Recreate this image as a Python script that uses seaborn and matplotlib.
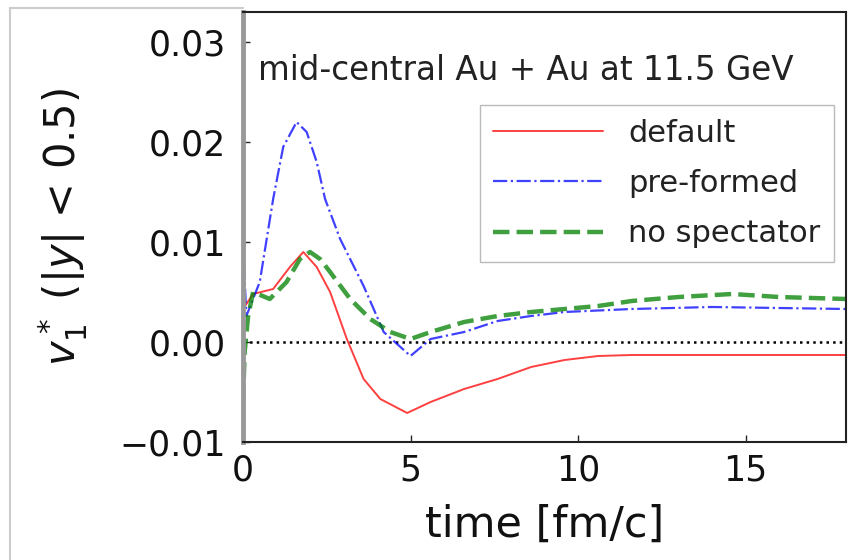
import matplotlib
matplotlib.use('Agg')
import matplotlib.pyplot as plt
import numpy as np
import pandas as pd
import seaborn as sns
from matplotlib.lines import Line2D

# default
t_default = [0, 0.3, 0.9, 1.4, 1.8, 2.2, 2.6, 3.1, 3.6, 4.1, 4.9, 5.6, 6.6, 7.6, 8.6, 9.6, 10.6, 11.6, 13, 14.5, 16, 18]
v_default = [0.0033, 0.0048, 0.0053, 0.0075, 0.009, 0.0075, 0.005, 0.0003, -0.0037, -0.0057, -0.0071, -0.006,
             -0.0047, -0.0037, -0.0025, -0.0018, -0.0014, -0.0013, -0.0013, -0.0013, -0.0013, -0.0013]

# pre-formed
t_pre = [0, 0.1, 0.5, 0.9, 1.2, 1.6, 1.9, 2.2, 2.45, 2.9, 3.6, 4.2, 5.0, 5.6, 6.6, 7.6, 8.6, 9.6, 11.6, 14, 16, 18]
v_pre = [0.01, 0.0026, 0.006, 0.0143, 0.0195, 0.022, 0.021, 0.018, 0.0143, 0.0103, 0.0056, 0.001, -0.0014,
         0.0003, 0.001, 0.0021, 0.0026, 0.003, 0.0033, 0.0035, 0.0034, 0.0033]

# no spectator
t_nospec = [0, 0.05, 0.15, 0.3, 0.8, 1.3, 1.7, 2.0, 2.3, 2.6, 3.2, 3.8, 4.4, 5.0, 5.6, 6.6, 7.6, 8.6, 9.6,
            10.6, 11.6, 13, 14.6, 16, 18]
v_nospec = [-0.006, -0.001, 0.0025, 0.005, 0.0043, 0.006, 0.0083, 0.009, 0.0083, 0.007, 0.0043, 0.0023, 0.001,
            0.0003, 0.001, 0.002, 0.0026, 0.003, 0.0033, 0.0036, 0.0041, 0.0045, 0.0048, 0.0045, 0.0043]

x_ticks = [0, 5, 10, 15]
y_ticks = [-0.01, 0.0, 0.01, 0.02, 0.03]

cases = [
    {'name': 'default', 't': t_default, 'v': v_default, 'color': 'red', 'ls': '-', 'lw': 1.4},
    {'name': 'pre-formed', 't': t_pre, 'v': v_pre, 'color': 'blue', 'ls': '-.', 'lw': 1.6},
    {'name': 'no spectator', 't': t_nospec, 'v': v_nospec, 'color': 'green', 'ls': '--', 'lw': 3.2},
]


def main():
    sns.set_style('ticks')
    plt.rcParams['font.family'] = ['DejaVu Sans']

    fig = plt.figure(figsize=(8.58, 5.6), dpi=100)
    ax = fig.add_axes([243 / 858, 1 - 442 / 560, 603 / 858, 430 / 560])

    for case in cases:
        df = pd.DataFrame({'time': case['t'], 'v1': case['v']})
        sns.lineplot(data=df, x='time', y='v1', ax=ax, color=case['color'], linestyle=case['ls'],
                     linewidth=case['lw'], alpha=0.75, label=case['name'])

    ax.axhline(0, color='black', linestyle=':', linewidth=1.8, zorder=1)

    ax.set_xlim(0, 18)
    ax.set_ylim(-0.01, 0.033)
    ax.set_xticks(x_ticks)
    ax.set_yticks(y_ticks)
    ax.set_yticklabels(['\u22120.01', '0.00', '0.01', '0.02', '0.03'])
    ax.tick_params(direction='in', labelsize=25, length=5, width=1, labelcolor='#111111')
    ax.tick_params(axis='y', pad=12)
    ax.tick_params(axis='x', pad=8)

    ax.set_xlabel('time [fm/c]', fontsize=31, labelpad=12, color='#111111')
    ax.set_ylabel(r'$v_1^*$ ($|y|$ < 0.5)', fontsize=30, labelpad=22, color='#111111')

    for side in ['top', 'bottom', 'right']:
        ax.spines[side].set_color('#222222')
        ax.spines[side].set_linewidth(1.5)
    ax.spines['left'].set_color('#999999')
    ax.spines['left'].set_linewidth(3.5)

    ax.text(0.025, 0.865, 'mid-central Au + Au at 11.5 GeV', transform=ax.transAxes,
            fontsize=23.5, va='center', ha='left', color='#222222')

    leg = ax.legend(loc='upper right', bbox_to_anchor=(0.98, 0.784), borderaxespad=0, fontsize=22,
                    frameon=True, fancybox=False, edgecolor='#aaaaaa', handlelength=3.6, handletextpad=0.8,
                    labelspacing=0.7, borderpad=0.45)
    leg.get_frame().set_linewidth(1)
    for text in leg.get_texts():
        text.set_color('#222222')

    # outer frame of the cropped figure
    fig.add_artist(Line2D([10 / 858, 10 / 858], [0, 1 - 8 / 560], color='#cccccc', linewidth=1.5))
    fig.add_artist(Line2D([10 / 858, 243 / 858], [1 - 8 / 560, 1 - 8 / 560], color='#cccccc', linewidth=1.5))

    fig.savefig('out.png', dpi=100)


if __name__ == '__main__':
    main()
